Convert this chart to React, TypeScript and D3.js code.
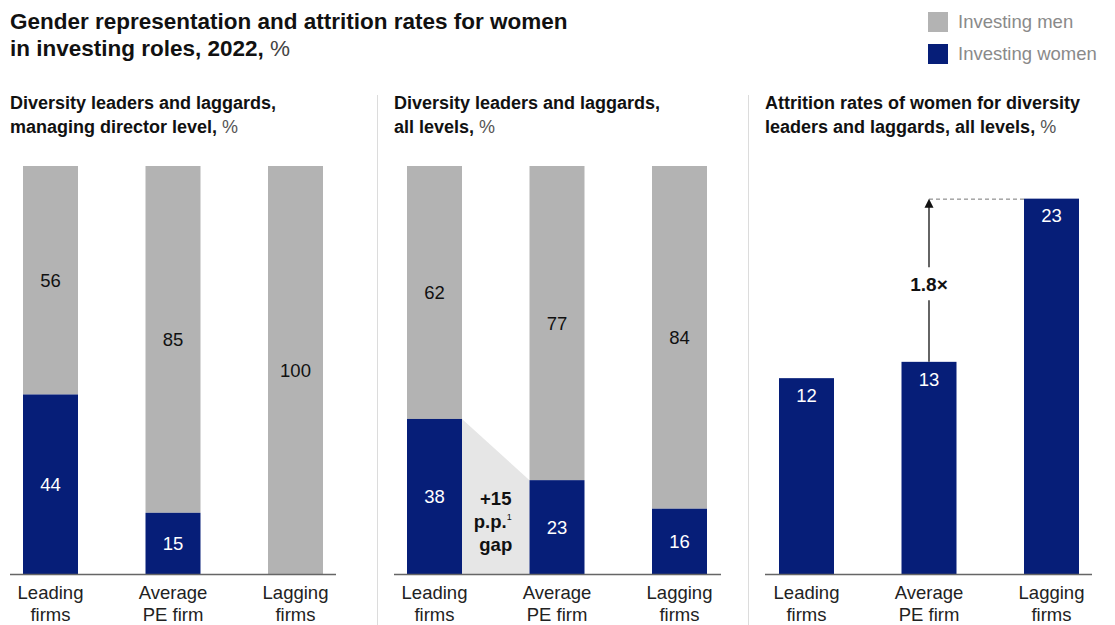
import * as d3 from "d3";

const categories = ["Leading firms", "Average PE firm", "Lagging firms"];
const categoryLines = [["Leading", "firms"], ["Average", "PE firm"], ["Lagging", "firms"]];

// managing director level
const mdWomen = [44, 15, 0];
const mdMen = [56, 85, 100];
// all levels
const allWomen = [38, 23, 16];
const allMen = [62, 77, 84];
// attrition of women
const attrition = [12, 13, 23];

const NAVY = "#061e78";
const GREY = "#b3b3b3";
const FONT = "'Liberation Sans', Arial, sans-serif";

const BASE = 574;
const TOP = 166;
const BAR_W = 55;
const FS = 18.5;

const panels = [
  { x0: -10.75, axis: [10, 336], title: ["Diversity leaders and laggards,", "managing director level,"], tx: 10 },
  { x0: 373.25, axis: [394, 721], title: ["Diversity leaders and laggards,", "all levels,"], tx: 394 },
  { x0: 745.25, axis: [765, 1092], title: ["Attrition rates of women for diversity", "leaders and laggards, all levels,"], tx: 765 },
];

function xScale(p: number) {
  return d3.scalePoint<string>().domain(categories).range([panels[p].x0, panels[p].x0 + 367.5]).padding(0.5);
}

const yShare = d3.scaleLinear().domain([0, 100]).range([BASE, TOP]);
const yAttr = d3.scaleLinear().domain([0, 25]).range([BASE, TOP]);

function Stacked({ p, women, men }: { p: number; women: number[]; men: number[] }) {
  const x = xScale(p);
  return (
    <g>
      {categories.map((c, i) => {
        const cx = x(c)!;
        const yw = yShare(women[i]);
        const ym = yShare(women[i] + men[i]);
        return (
          <g key={c}>
            <rect x={cx - BAR_W / 2} y={ym} width={BAR_W} height={yw - ym} fill={GREY} />
            {women[i] > 0 && <rect x={cx - BAR_W / 2} y={yw} width={BAR_W} height={BASE - yw} fill={NAVY} />}
            <text x={cx} y={(ym + yw) / 2} dy="0.36em" textAnchor="middle" fontSize={FS} fill="#111">{men[i]}</text>
            {women[i] > 0 && (
              <text x={cx} y={(yw + BASE) / 2} dy="0.36em" textAnchor="middle" fontSize={FS} fill="#fff">{women[i]}</text>
            )}
          </g>
        );
      })}
    </g>
  );
}

function Frame({ p }: { p: number }) {
  const x = xScale(p);
  const pn = panels[p];
  return (
    <g>
      <text x={pn.tx} y={109} fontSize={18} fontWeight="bold" fill="#111">{pn.title[0]}</text>
      <text x={pn.tx} y={133} fontSize={18} fill="#111">
        <tspan fontWeight="bold">{pn.title[1]}</tspan>
        <tspan fill="#555"> %</tspan>
      </text>
      <line x1={pn.axis[0]} x2={pn.axis[1]} y1={BASE + 0.5} y2={BASE + 0.5} stroke="#666" strokeWidth={1.3} />
      {categories.map((c, i) => (
        <text key={c} x={x(c)!} textAnchor="middle" fontSize={FS} fill="#222">
          <tspan x={x(c)!} y={599}>{categoryLines[i][0]}</tspan>
          <tspan x={x(c)!} y={621}>{categoryLines[i][1]}</tspan>
        </text>
      ))}
    </g>
  );
}

export default function App() {
  const x2 = xScale(1);
  const x3 = xScale(2);
  const gx0 = x2(categories[0])! + BAR_W / 2;
  const gx1 = x2(categories[1])! - BAR_W / 2;
  const gcx = (gx0 + gx1) / 2;
  const ax = x3(categories[1])!;
  const ay0 = yAttr(attrition[1]);
  const ay1 = yAttr(attrition[2]);
  const labelY = (ay0 + ay1) / 2 + 4;

  return (
    <svg width={1115} height={625} style={{ position: "absolute", left: 0, top: 0, fontFamily: FONT }}>
      <rect width={1115} height={625} fill="#fff" />
      <text x={10} y={29} fontSize={22.5} fontWeight={600} fill="#111">Gender representation and attrition rates for women</text>
      <text x={10} y={56} fontSize={22.5} fill="#111">
        <tspan fontWeight={600}>in investing roles, 2022,</tspan>
        <tspan fill="#444"> %</tspan>
      </text>

      <rect x={928} y={12} width={20} height={20} fill={GREY} />
      <text x={958} y={22} dy="0.35em" fontSize={FS} fill="#8a8a8a">Investing men</text>
      <rect x={928} y={44} width={20} height={20} fill={NAVY} />
      <text x={958} y={54} dy="0.35em" fontSize={FS} fill="#8a8a8a">Investing women</text>

      <line x1={377.5} x2={377.5} y1={95} y2={625} stroke="#dcdcdc" />
      <line x1={748.5} x2={748.5} y1={95} y2={625} stroke="#dcdcdc" />

      {/* gap shading between leading and average, all levels */}
      <path
        d={`M${gx0},${yShare(allWomen[0])}L${gx1},${yShare(allWomen[1])}L${gx1},${BASE}L${gx0},${BASE}Z`}
        fill="#e6e6e6"
      />
      <Stacked p={0} women={mdWomen} men={mdMen} />
      <Stacked p={1} women={allWomen} men={allMen} />
      <text textAnchor="middle" fontSize={FS} fontWeight="bold" fill="#111">
        <tspan x={gcx} y={505}>+15</tspan>
        <tspan x={gcx - 3} y={528}>p.p.<tspan fontSize={9} fontWeight="normal" dy={-8}>1</tspan></tspan>
        <tspan x={gcx} y={551}>gap</tspan>
      </text>

      {categories.map((c, i) => {
        const cx = x3(c)!;
        const y = yAttr(attrition[i]);
        return (
          <g key={c}>
            <rect x={cx - BAR_W / 2} y={y} width={BAR_W} height={BASE - y} fill={NAVY} />
            <text x={cx} y={y + 17} dy="0.36em" textAnchor="middle" fontSize={FS} fill="#fff">{attrition[i]}</text>
          </g>
        );
      })}

      <line x1={ax} x2={x3(categories[2])! - BAR_W / 2} y1={ay1 + 0.5} y2={ay1 + 0.5} stroke="#777" strokeDasharray="4,3" />
      <line x1={ax} x2={ax} y1={ay0} y2={labelY + 16} stroke="#111" strokeWidth={1.3} />
      <line x1={ax} x2={ax} y1={labelY - 17} y2={ay1 + 8} stroke="#111" strokeWidth={1.3} />
      <path d={`M${ax},${ay1}L${ax - 4.5},${ay1 + 9}L${ax + 4.5},${ay1 + 9}Z`} fill="#111" />
      <text x={ax} y={labelY} dy="0.36em" textAnchor="middle" fontSize={19} fontWeight="bold" fill="#111">1.8×</text>

      <Frame p={0} />
      <Frame p={1} />
      <Frame p={2} />
    </svg>
  );
}
